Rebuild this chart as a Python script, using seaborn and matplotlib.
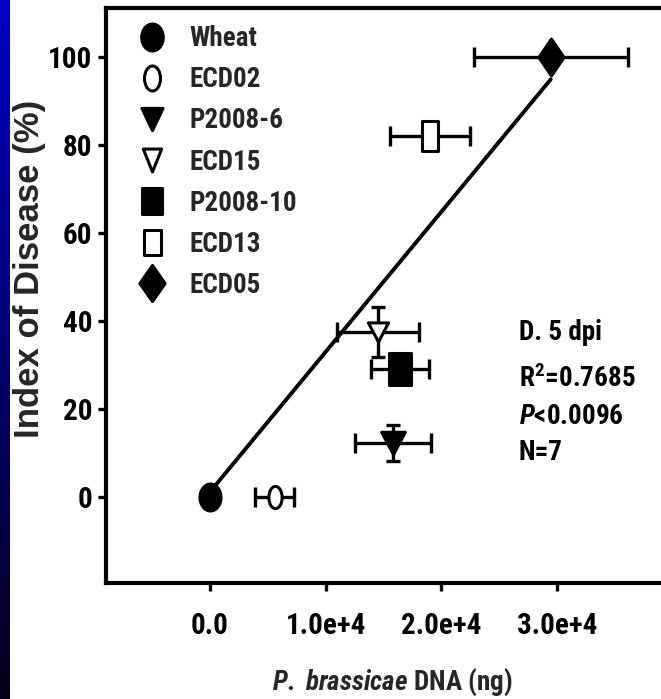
import numpy as np
import matplotlib
matplotlib.use("Agg")
import matplotlib.pyplot as plt
from matplotlib.path import Path
from matplotlib.lines import Line2D
from matplotlib import font_manager
import seaborn as sns

# ---- data -------------------------------------------------------------
isolates = ["Wheat", "ECD02", "P2008-6", "ECD15", "P2008-10", "ECD13", "ECD05"]
dna_ng = [0.0, 5600.0, 15800.0, 14500.0, 16400.0, 19000.0, 29450.0]
dna_err = [0.0, 1700.0, 3300.0, 3550.0, 2500.0, 3450.0, 6650.0]
disease_idx = [0.0, 0.0, 12.3, 37.5, 29.1, 82.0, 100.0]
disease_err = [0.0, 0.0, 4.2, 5.7, 3.0, 0.0, 0.0]

fit_x = [0.0, 29450.0]
fit_y = [1.2, 94.9]

x_ticks = [0, 10000, 20000, 30000]
x_tick_labels = ["0.0", "1.0e+4", "2.0e+4", "3.0e+4"]
y_ticks = [0, 20, 40, 60, 80, 100]

stats_lines = ["D. 5 dpi", r"R$^{\mathbf{2}}$=0.7685", r"$\mathit{P}$<0.0096", "N=7"]

# ---- fonts ------------------------------------------------------------
sns.set_theme(style="white")
names = {f.name for f in font_manager.fontManager.ttflist}
narrow = next((n for n in ["Liberation Sans Narrow", "Arial Narrow", "Roboto Condensed"]
               if n in names), "Liberation Sans")
plt.rcParams["font.family"] = [narrow, "DejaVu Sans"]
plt.rcParams["font.weight"] = "bold"
plt.rcParams["mathtext.fontset"] = "custom"
plt.rcParams["mathtext.rm"] = f"{narrow}:bold"
plt.rcParams["mathtext.bf"] = f"{narrow}:bold"
plt.rcParams["mathtext.it"] = f"{narrow}:italic:bold"


# ---- marker shapes (taller than wide) ---------------------------------
def ellipse(w, h):
    c = Path.unit_circle()
    return Path(c.vertices * np.array([w, h]), c.codes)


def tri_down(w, h):
    return Path([(-w / 2, h / 2), (w / 2, h / 2), (0, -h / 2), (-w / 2, h / 2)],
                [Path.MOVETO, Path.LINETO, Path.LINETO, Path.CLOSEPOLY])


def rect(w, h):
    return Path([(-w / 2, -h / 2), (w / 2, -h / 2), (w / 2, h / 2), (-w / 2, h / 2), (-w / 2, -h / 2)],
                [Path.MOVETO, Path.LINETO, Path.LINETO, Path.LINETO, Path.CLOSEPOLY])


def diamond(w, h):
    return Path([(0, h / 2), (w / 2, 0), (0, -h / 2), (-w / 2, 0), (0, h / 2)],
                [Path.MOVETO, Path.LINETO, Path.LINETO, Path.LINETO, Path.CLOSEPOLY])


shapes = [ellipse(0.78, 1), ellipse(0.6, 1), tri_down(1, 0.95), tri_down(1.05, 1),
          rect(0.66, 1), rect(0.52, 1), diamond(0.68, 1)]
filled = [True, False, True, False, True, False, True]
point_size = [19.4, 16.0, 17.0, 14.5, 23.0, 21.0, 26.6]
legend_shapes = [ellipse(0.8, 1), ellipse(0.64, 1), tri_down(0.95, 1), tri_down(0.8, 1),
                 rect(0.72, 1), rect(0.68, 1), diamond(0.7, 1)]
legend_size = [19.4, 18.0, 16.0, 16.5, 19.4, 18.0, 26.0]

# ---- figure -----------------------------------------------------------
W, H = 661, 699
fig = plt.figure(figsize=(W / 100, H / 100), dpi=100)
fig.patch.set_facecolor("white")

# dark blue strip along the left edge
strip = fig.add_axes([0, 0, 10 / W, 1])
grad = np.linspace(0, 1, 256).reshape(-1, 1)
strip.imshow(grad, aspect="auto",
             cmap=matplotlib.colors.LinearSegmentedColormap.from_list("strip", ["#0000c4", "#05001a"]),
             extent=[0, 1, 0, 1], origin="upper")
strip.set_axis_off()

ax = fig.add_axes([106 / W, 1 - 583 / H, 1 - 106 / W, (583 - 8) / H])
ax.set_facecolor("white")

# regression line
sns.lineplot(x=fit_x, y=fit_y, ax=ax, color="black", linewidth=2.8, zorder=2)

for i, name in enumerate(isolates):
    if dna_err[i] > 0:
        ax.errorbar(dna_ng[i], disease_idx[i], xerr=dna_err[i], fmt="none",
                    ecolor="black", elinewidth=2.4, capsize=7.2, capthick=2.4, zorder=2)
    if disease_err[i] > 0:
        ax.errorbar(dna_ng[i], disease_idx[i], yerr=disease_err[i], fmt="none",
                    ecolor="black", elinewidth=2.4, capsize=5.0, capthick=2.4, zorder=2)
    sns.scatterplot(x=[dna_ng[i]], y=[disease_idx[i]], ax=ax, marker=shapes[i],
                    s=point_size[i] ** 2, color="black" if filled[i] else "white",
                    edgecolor="black", linewidth=2.2, zorder=3, legend=False)

handles = [Line2D([], [], linestyle="none", marker=legend_shapes[i], markersize=legend_size[i],
                  markerfacecolor="black" if filled[i] else "white",
                  markeredgecolor="black", markeredgewidth=2.2)
           for i in range(len(isolates))]
ax.legend(handles, isolates, loc="upper left", bbox_to_anchor=(0.0604, 0.970),
          frameon=False, borderpad=0, borderaxespad=0, handlelength=0.93,
          handletextpad=0.92, labelspacing=0.52,
          prop={"family": [narrow], "weight": "bold", "size": 19.5})

# statistics block (baselines in pixels from the top)
for line, base in zip(stats_lines, [340, 387, 424, 460]):
    ax.text(519, H - base, line, transform=None, fontsize=19.5, fontweight="bold",
            ha="left", va="baseline", color="black")

ax.set_xlim(-8990, 38980)
ax.set_ylim(-19.5, 111.1)
ax.set_xticks(x_ticks)
ax.set_xticklabels(x_tick_labels)
ax.set_yticks(y_ticks)
for sp in ["top", "left", "bottom"]:
    ax.spines[sp].set_linewidth(3)
    ax.spines[sp].set_color("black")
ax.spines["right"].set_visible(False)
ax.tick_params(axis="both", which="major", direction="out", length=6, width=2.4,
               color="black", labelsize=21, labelcolor="black", left=True, bottom=True)
ax.tick_params(axis="x", pad=15)
ax.tick_params(axis="y", pad=4)
for lab in ax.get_xticklabels() + ax.get_yticklabels():
    lab.set_fontweight("bold")

ax.set_xlabel(r"$\mathit{P.}$ $\mathit{brassicae}$ DNA (ng)", fontsize=19.5, fontweight="bold",
              labelpad=19)
ax.xaxis.label.set_x(0.515)
ax.set_ylabel("Index of Disease (%)", fontsize=25, fontweight="bold",
              family=["Liberation Sans", "DejaVu Sans"])
ax.yaxis.set_label_coords(-0.108, 0.546)

fig.savefig("out.png", dpi=100, facecolor="white")
